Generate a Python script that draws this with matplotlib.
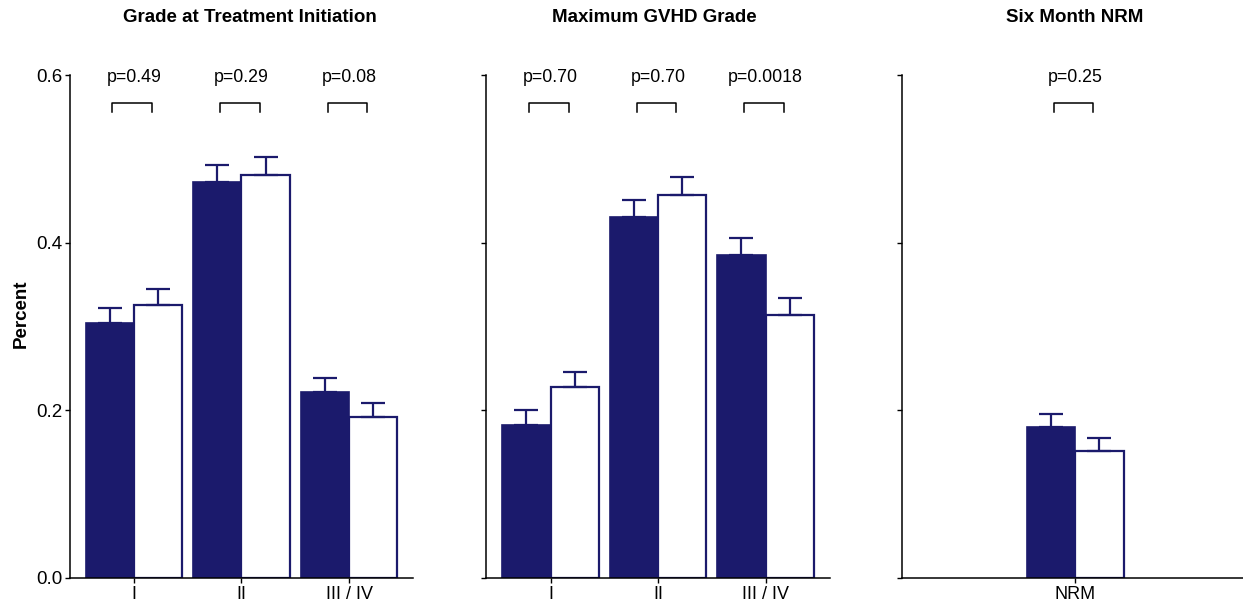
import matplotlib
matplotlib.use("Agg")
import matplotlib.pyplot as plt
import numpy as np

plt.rcParams['font.family'] = ['Liberation Sans', 'DejaVu Sans']

NAVY = '#1b1a6c'

# ---- data ----
titles = ["Grade at Treatment Initiation", "Maximum GVHD Grade", "Six Month NRM"]
cats_initiation = ["I", "II", "III / IV"]
cats_max = ["I", "II", "III / IV"]
cats_nrm = ["NRM"]

filled_initiation = [0.304, 0.472, 0.222]
filled_initiation_err = [0.018, 0.021, 0.017]
hollow_initiation = [0.326, 0.481, 0.192]
hollow_initiation_err = [0.019, 0.021, 0.017]
p_initiation = ["p=0.49", "p=0.29", "p=0.08"]

filled_max = [0.183, 0.431, 0.385]
filled_max_err = [0.017, 0.020, 0.020]
hollow_max = [0.228, 0.457, 0.314]
hollow_max_err = [0.018, 0.021, 0.020]
p_max = ["p=0.70", "p=0.70", "p=0.0018"]

filled_nrm = [0.180]
filled_nrm_err = [0.016]
hollow_nrm = [0.151]
hollow_nrm_err = [0.016]
p_nrm = ["p=0.25"]

yticks = [0.0, 0.2, 0.4, 0.6]
ytick_labels = ["0.0", "0.2", "0.4", "0.6"]

panels = [
    (cats_initiation, filled_initiation, filled_initiation_err, hollow_initiation, hollow_initiation_err, p_initiation),
    (cats_max, filled_max, filled_max_err, hollow_max, hollow_max_err, p_max),
    (cats_nrm, filled_nrm, filled_nrm_err, hollow_nrm, hollow_nrm_err, p_nrm),
]

W, H = 1243, 605
fig = plt.figure(figsize=(W / 100, H / 100), dpi=100)

rects = [(70, 413), (486, 830), (902, 1243)]
y0_px, y1_px = 578, 75
xlims = [(-0.595, 2.595), (-0.6, 2.6), (-1.61, 1.56)]
title_x_px = [250, 654, 1075]

bw = 0.45
for i, ((l, r), (cats, f, fe, h, he, pv)) in enumerate(zip(rects, panels)):
    ax = fig.add_axes([l / W, 1 - y0_px / H, (r - l) / W, (y0_px - y1_px) / H])
    x = np.arange(len(cats))
    ax.bar(x - bw / 2, f, width=bw, color=NAVY, edgecolor=NAVY, linewidth=1.2, zorder=2)
    ax.bar(x + bw / 2, h, width=bw, color='white', edgecolor=NAVY, linewidth=1.6, zorder=2)
    ax.errorbar(x - bw / 2, f, yerr=[np.zeros(len(f)), fe], fmt='none', ecolor=NAVY,
                elinewidth=1.6, capsize=8.5, capthick=1.6, zorder=3)
    ax.errorbar(x + bw / 2, h, yerr=[np.zeros(len(h)), he], fmt='none', ecolor=NAVY,
                elinewidth=1.6, capsize=8.5, capthick=1.6, zorder=3)
    for xi, p in zip(x, pv):
        bl, br = xi - 0.2, xi + 0.17
        ax.plot([bl, bl, br, br], [0.556, 0.567, 0.567, 0.556], color='black', lw=1.1,
                clip_on=False, zorder=4)
        ax.text(xi, 0.597, p, ha='center', va='center', fontsize=12.8, clip_on=False)
    ax.set_xlim(*xlims[i])
    ax.set_ylim(0, 0.6)
    ax.set_xticks(x)
    ax.set_xticklabels(cats, fontsize=13)
    ax.set_yticks(yticks)
    if i == 0:
        ax.set_yticklabels(ytick_labels, fontsize=13.5)
        ax.set_ylabel("Percent", fontsize=13.5, fontweight='bold')
        ax.yaxis.set_label_coords(-0.117, 0.525)
    else:
        ax.set_yticklabels([])
    for s in ['top', 'right']:
        ax.spines[s].set_visible(False)
    for s in ['left', 'bottom']:
        ax.spines[s].set_linewidth(1.1)
    ax.tick_params(axis='both', direction='out', length=3.5, width=1.0, pad=2, colors='black')
    fig.text(title_x_px[i] / W, 1 - 17 / H, titles[i], ha='center', va='center',
             fontsize=13.5, fontweight='bold')

fig.savefig("out.png", dpi=100)
